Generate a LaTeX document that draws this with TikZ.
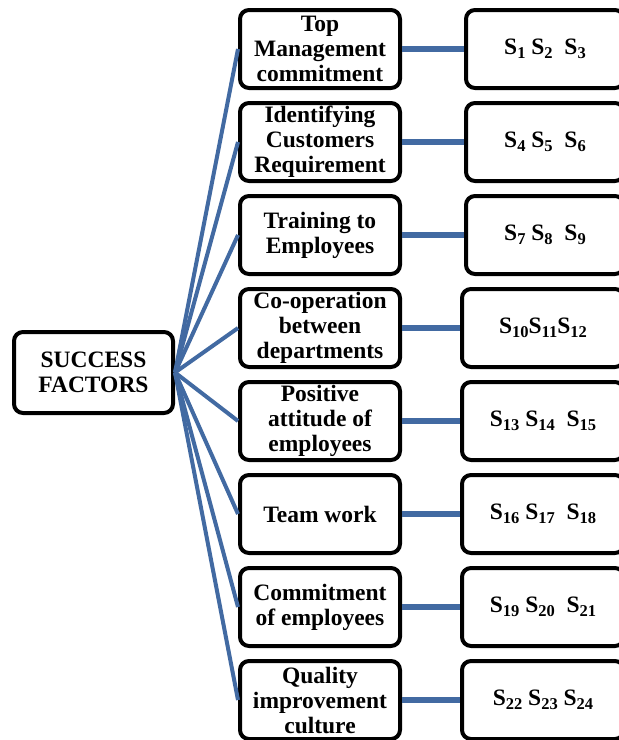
\documentclass[tikz,border=0pt]{standalone}
\usepackage{fontspec}
\setmainfont{Liberation Serif}
\definecolor{linkblue}{RGB}{66,106,162}
\newcommand\boxfont{\fontsize{23.5pt}{25pt}\selectfont\bfseries}
\newcommand\sbs[1]{\raisebox{-4pt}{\fontsize{16.5pt}{17pt}\selectfont #1}}
\tikzset{
  box/.style={draw, line width=4pt, rounded corners=9pt, align=center, inner sep=0pt, font=\boxfont},
  factor/.style={box, minimum width=160pt, minimum height=78pt},
  codebox/.style={box, minimum height=78pt},
  codeA/.style={codebox, minimum width=158pt},
  codeB/.style={codebox, minimum width=162pt},
  fanlink/.style={draw=linkblue, line width=4pt},
  hlink/.style={draw=linkblue, line width=5.5pt},
}
\begin{document}
\begin{tikzpicture}[x=1pt,y=-1pt]
\useasboundingbox (0,0) rectangle (619,740);
\clip (0,0) rectangle (619,740);

\node[box, minimum width=159pt, minimum height=81pt] (sf) at (93.5,372.5) {SUCCESS\\FACTORS};

\node[factor] (f1) at (320,49)  {Top\\Management\\commitment};
\node[factor] (f2) at (320,142) {Identifying\\Customers\\Requirement};
\node[factor] (f3) at (320,235) {Training to\\Employees};
\node[factor] (f4) at (320,328) {Co-operation\\between\\departments};
\node[factor] (f5) at (320,421) {Positive\\attitude of\\employees};
\node[factor] (f6) at (320,514) {Team work};
\node[factor] (f7) at (320,607) {Commitment\\of employees};
\node[factor] (f8) at (320,700) {Quality\\improvement\\culture};

\node[codeA] (s1) at (545,49)  {S\sbs{1} S\sbs{2}\ \ S\sbs{3}};
\node[codeA] (s2) at (545,142) {S\sbs{4} S\sbs{5}\ \ S\sbs{6}};
\node[codeA] (s3) at (545,235) {S\sbs{7} S\sbs{8}\ \ S\sbs{9}};
\node[codeB] (s4) at (543,328) {S\sbs{10}S\sbs{11}S\sbs{12}};
\node[codeB] (s5) at (543,421) {S\sbs{13} S\sbs{14}\ \ S\sbs{15}};
\node[codeB] (s6) at (543,514) {S\sbs{16} S\sbs{17}\ \ S\sbs{18}};
\node[codeB] (s7) at (543,607) {S\sbs{19} S\sbs{20}\ \ S\sbs{21}};
\node[codeB] (s8) at (543,700) {S\sbs{22} S\sbs{23} S\sbs{24}};

\foreach \i in {1,...,8} {
  \draw[fanlink] (sf.east) -- (f\i.west);
  \draw[hlink] (f\i.east) -- (s\i.west);
}
\end{tikzpicture}
\end{document}
